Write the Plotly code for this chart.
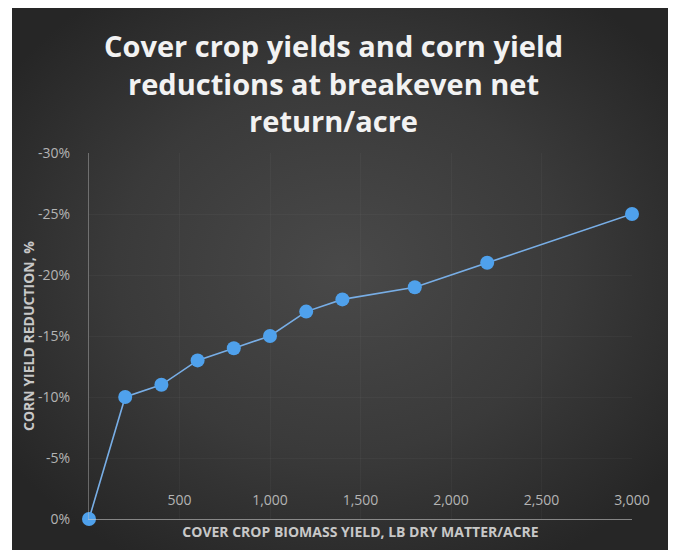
import base64
import plotly.graph_objects as go

biomass = [0, 200, 400, 600, 800, 1000, 1200, 1400, 1800, 2200, 3000]
yield_reduction = [0, -10, -11, -13, -14, -15, -17, -18, -19, -21, -25]
x_ticks = [500, 1000, 1500, 2000, 2500, 3000]
x_tick_labels = ["500", "1,000", "1,500", "2,000", "2,500", "3,000"]
y_ticks = [0, -5, -10, -15, -20, -25, -30]
y_tick_labels = ["0%", "-5%", "-10%", "-15%", "-20%", "-25%", "-30%"]

title_text = "Cover crop yields and corn yield<br>reductions at breakeven net<br>return/acre"
x_title = "COVER CROP BIOMASS YIELD, LB DRY MATTER/ACRE"
y_title = "CORN YIELD REDUCTION, %"

# page body adds an 8px offset; figure coordinates below are relative to the figure
W, H = 665, 542
L, R, T, B = 81, 41, 145, 31
pw, ph = W - L - R, H - T - B

svg = (
    '<svg xmlns="http://www.w3.org/2000/svg" width="661" height="542" viewBox="0 0 661 542" preserveAspectRatio="none">'
    '<defs><radialGradient id="g" cx="50%" cy="48%" r="62%">'
    '<stop offset="0%" stop-color="#494949"/><stop offset="55%" stop-color="#3a3a3a"/>'
    '<stop offset="100%" stop-color="#262626"/></radialGradient></defs>'
    '<rect width="661" height="542" fill="url(#g)"/></svg>'
)
src = "data:image/svg+xml;base64," + base64.b64encode(svg.encode()).decode()

def px_x(p):
    return (p - L) / pw

def px_y(p):
    return (H - B - p) / ph

fig = go.Figure()
fig.add_trace(go.Scatter(
    x=biomass, y=yield_reduction, mode="lines+markers",
    line=dict(color="#78aee6", width=1.6),
    marker=dict(color="#4fa1ec", size=14, line=dict(width=0)),
    cliponaxis=False, hoverinfo="skip",
))
# carrier trace so the label axis (x2) is drawn
fig.add_trace(go.Scatter(
    x=biomass, y=yield_reduction, xaxis="x2", mode="markers",
    marker=dict(size=1, opacity=0), hoverinfo="skip", showlegend=False,
))

fig.add_layout_image(dict(
    source=src, xref="paper", yref="paper",
    x=px_x(4), y=px_y(0), sizex=px_x(665) - px_x(4), sizey=px_y(0) - px_y(542),
    xanchor="left", yanchor="top", sizing="stretch", layer="below",
))

fig.add_annotation(
    text=title_text, xref="paper", yref="paper",
    x=px_x(325), y=px_y(16), xanchor="center", yanchor="top",
    showarrow=False, align="center",
    font=dict(family="Open Sans", size=29, color="#f2f2f2", weight="bold"),
)

tick_font = dict(family="Open Sans", size=14, color="#b4b4b4")
title_font = dict(family="Open Sans", size=14, color="#c8c8c8", weight="bold")

fig.update_layout(
    width=W, height=H,
    margin=dict(l=L, r=R, t=T, b=B, pad=0),
    paper_bgcolor="white", plot_bgcolor="rgba(0,0,0,0)",
    showlegend=False,
    font=dict(family="Open Sans", color="#bdbdbd", size=12),
    xaxis=dict(
        range=[0, 3000], tickvals=x_ticks, showticklabels=False, ticks="",
        showgrid=True, gridcolor="rgba(255,255,255,0.03)", zeroline=False,
        showline=True, linecolor="rgba(210,210,210,0.55)", linewidth=1,
        title=dict(text=x_title, standoff=8, font=title_font),
    ),
    xaxis2=dict(
        range=[0, 3000], overlaying="x", anchor="free", position=px_y(482),
        side="bottom", tickvals=x_ticks, ticktext=x_tick_labels, ticks="",
        showgrid=False, zeroline=False, showline=False, tickfont=tick_font,
    ),
    yaxis=dict(
        range=[0, -30], tickvals=y_ticks, ticktext=y_tick_labels, ticks="",
        showgrid=True, gridcolor="rgba(255,255,255,0.03)", zeroline=False,
        showline=True, linecolor="rgba(200,200,200,0.4)", linewidth=1,
        ticklabelstandoff=15, tickfont=tick_font,
        title=dict(text=y_title, standoff=0, font=title_font),
    ),
)

fig.write_html("out.html")
